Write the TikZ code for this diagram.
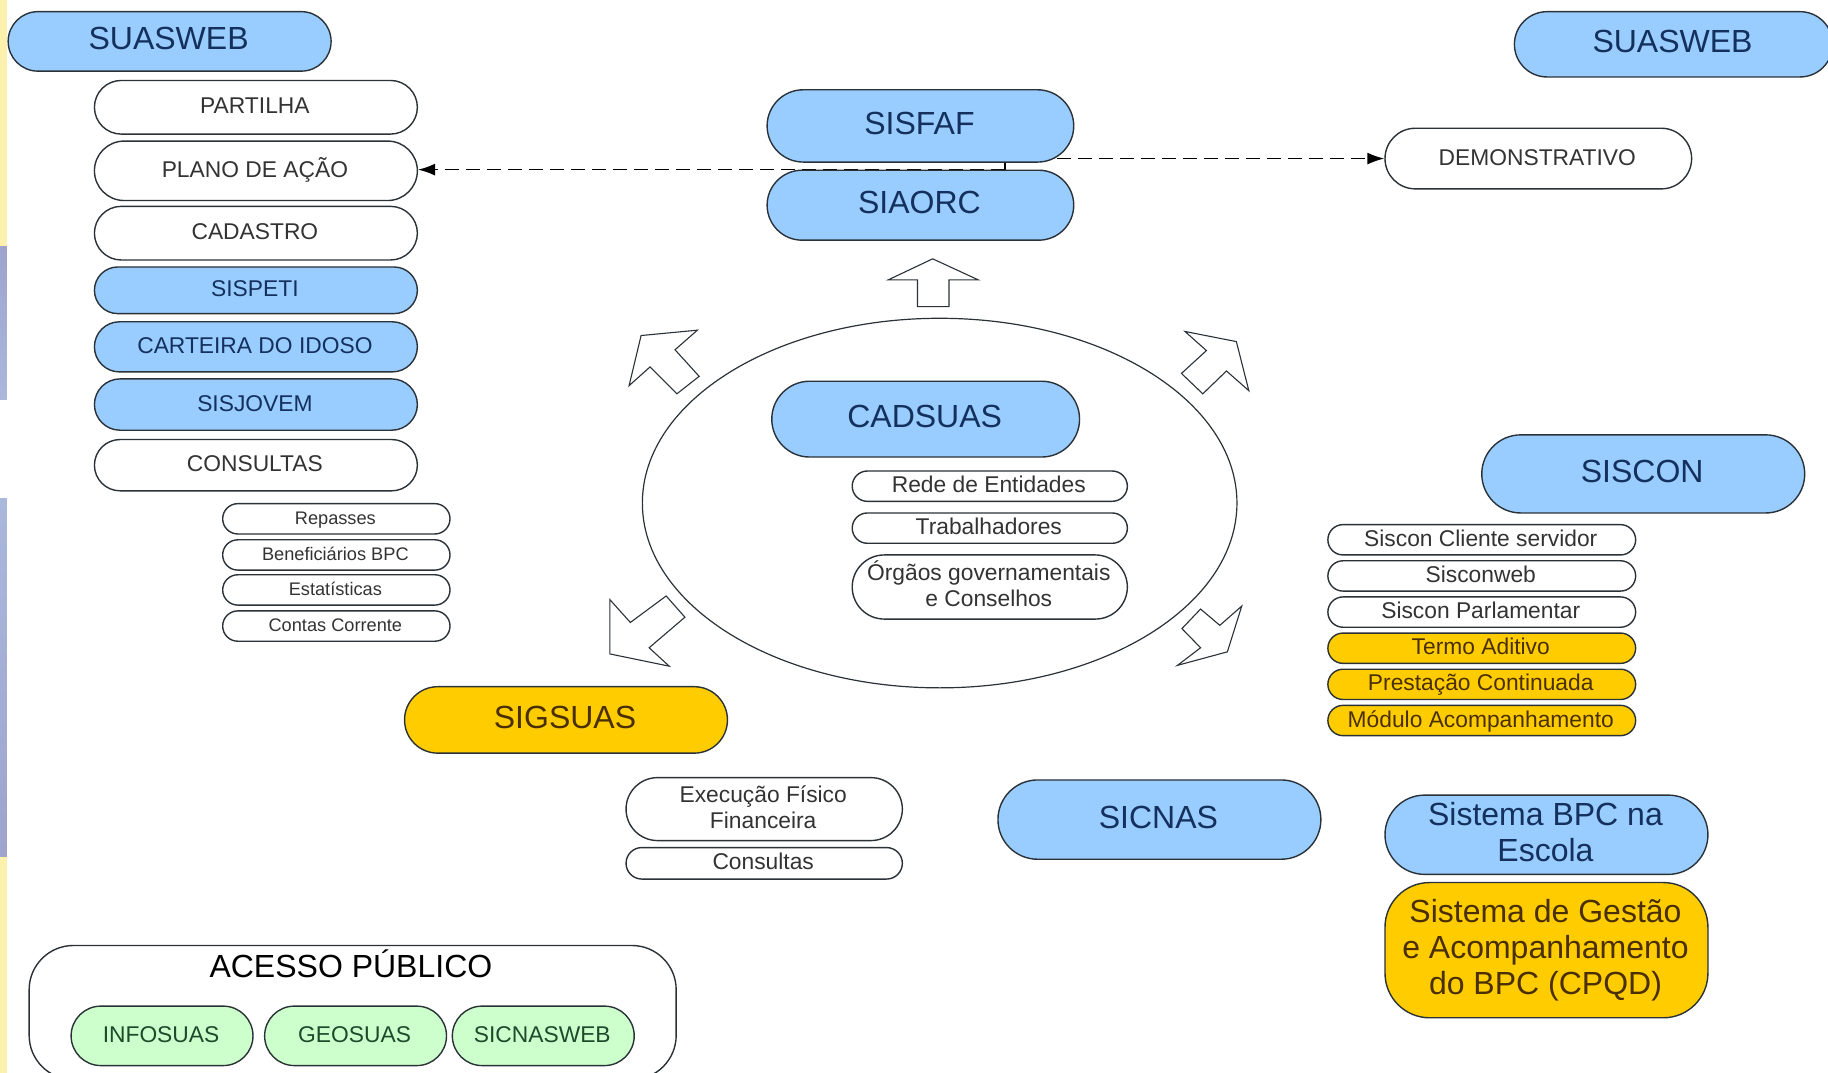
\documentclass[tikz,border=0pt]{standalone}
\usepackage{fontspec}
\setmainfont{Liberation Sans}
\usetikzlibrary{arrows.meta,backgrounds}
\definecolor{pblue}{HTML}{99CCFF}
\definecolor{pyellow}{HTML}{FFCC00}
\definecolor{pgreen}{HTML}{CCFFCC}
\definecolor{tblue}{HTML}{14305C}
\definecolor{tgrey}{HTML}{333333}
\definecolor{tbrown}{HTML}{4A3000}
\definecolor{tgreen}{HTML}{1E4A2C}
\definecolor{edge}{HTML}{2A3238}
\definecolor{stripY}{HTML}{FDF1AE}
\definecolor{stripD}{HTML}{9EA4CC}
\definecolor{stripL}{HTML}{AAB8DC}
\tikzset{
  pill/.style={draw=edge,line width=0.7pt,rectangle,inner sep=0pt},
  wbox/.style={pill,fill=white,text=tgrey},
  bbox/.style={pill,fill=pblue,text=tblue},
  ybox/.style={pill,fill=pyellow,text=tbrown},
  gbox/.style={pill,fill=pgreen,text=tgreen},
  blockarrow/.style={draw=edge,line width=0.55pt,fill=white,line join=miter},
  dashlink/.style={draw=black,line width=0.75pt,dash pattern=on 7pt off 3.5pt},
  tip/.style={-{Latex[length=8.5pt,width=6pt]}},
  big/.style={font=\fontsize{16}{18}\selectfont},
  midf/.style={font=\fontsize{11.4}{13}\selectfont},
  smallf/.style={font=\fontsize{9.1}{11}\selectfont},
}
% name, x1,y1,x2,y2, radius factor, style, text
\newcommand{\boxat}[8]{%
  \pgfmathsetmacro{\bw}{(#4-#2)*0.5829}%
  \pgfmathsetmacro{\bh}{(#5-#3)*0.5829}%
  \pgfmathsetmacro{\br}{(#5-#3)*0.5829*#6}%
  \node[#7,minimum width=\bw pt,minimum height=\bh pt,rounded corners=\br pt] (#1) at ({(#2+#4)/2},{(#3+#5)/2}) {\begin{tabular}{@{}c@{\hspace{1pt}}}\rule{0pt}{\dimexpr\ht\strutbox+1.4pt\relax}#8\end{tabular}};}
\begin{document}
\begin{tikzpicture}[x=0.5829pt,y=-0.5829pt]
\useasboundingbox (0,0) rectangle (1568,920);
\begin{scope}[on background layer]
\fill[white] (0,0) rectangle (1568,920);
\fill[stripY] (0,0) rectangle (5.8,211);
\shade[top color=stripD,bottom color=stripL] (0,211) rectangle (5.8,343);
\shade[top color=stripL,bottom color=stripD] (0,428) rectangle (5.8,735);
\fill[stripY] (0,735) rectangle (5.8,920);
\end{scope}
\coordinate (junction) at (862,145.5);
\draw[draw=edge,line width=0.6pt] (806,431.5) ellipse [x radius=255,y radius=158.5];
% boxes
\begin{scope}
\clip (0,0) rectangle (1568,920);
\boxat{suaswebL}{7}{10}{284}{61}{.5}{bbox,big}{SUASWEB}
\boxat{suaswebR}{1299}{10}{1572}{66}{.5}{bbox,big}{SUASWEB}
\boxat{partilha}{81}{69}{358}{115}{.5}{wbox,midf}{PARTILHA}
\boxat{plano}{81}{121}{358}{172}{.5}{wbox,midf}{PLANO DE AÇÃO}
\boxat{cadastro}{81}{177}{358}{223}{.5}{wbox,midf}{CADASTRO}
\boxat{sispeti}{81}{229}{358}{269}{.5}{bbox,midf}{SISPETI}
\boxat{carteira}{81}{276}{358}{319}{.5}{bbox,midf}{CARTEIRA DO IDOSO}
\boxat{sisjovem}{81}{325}{358}{369}{.5}{bbox,midf}{SISJOVEM}
\boxat{consultasA}{81}{377}{358}{421}{.5}{wbox,midf}{CONSULTAS}
\boxat{repasses}{191}{432}{386}{458}{.5}{wbox,smallf}{Repasses}
\boxat{benef}{191}{463}{386}{489}{.5}{wbox,smallf}{Beneficiários BPC}
\boxat{estat}{191}{493}{386}{519}{.5}{wbox,smallf}{Estatísticas}
\boxat{contas}{191}{524}{386}{550}{.5}{wbox,smallf}{Contas Corrente}
\boxat{sisfaf}{658}{77}{921}{139}{.5}{bbox,big}{SISFAF}
\boxat{siaorc}{658}{146}{921}{206}{.5}{bbox,big}{SIAORC}
\boxat{demo}{1188}{110}{1451}{162}{.5}{wbox,midf}{DEMONSTRATIVO}
\boxat{cadsuas}{662}{327}{926}{392}{.5}{bbox,big}{CADSUAS}
\boxat{rede}{731}{404}{967}{430}{.5}{wbox,midf}{Rede de Entidades}
\boxat{trab}{731}{440}{967}{466}{.5}{wbox,midf}{Trabalhadores}
\boxat{orgaos}{731}{476}{967}{531}{.5}{wbox,midf}{Órgãos governamentais\\e Conselhos}
\boxat{siscon}{1271}{373}{1548}{440}{.5}{bbox,big}{SISCON}
\boxat{cliente}{1139}{450}{1403}{476}{.5}{wbox,midf}{Siscon Cliente servidor}
\boxat{sisconweb}{1139}{481}{1403}{507}{.5}{wbox,midf}{Sisconweb}
\boxat{parlam}{1139}{512}{1403}{538}{.5}{wbox,midf}{Siscon Parlamentar}
\boxat{termo}{1139}{543}{1403}{569}{.5}{ybox,midf}{Termo Aditivo}
\boxat{prest}{1139}{574}{1403}{600}{.5}{ybox,midf}{Prestação Continuada}
\boxat{modulo}{1139}{605}{1403}{631}{.5}{ybox,midf}{Módulo Acompanhamento}
\boxat{sigsuas}{347}{589}{624}{646}{.5}{ybox,big}{SIGSUAS}
\boxat{execf}{537}{667}{774}{721}{.5}{wbox,midf}{Execução Físico\\Financeira}
\boxat{consultasB}{537}{727}{774}{754}{.5}{wbox,midf}{Consultas}
\boxat{sicnas}{856}{669}{1133}{737}{.5}{bbox,big}{SICNAS}
\boxat{bpc}{1188}{682}{1465}{750}{.5}{bbox,big}{Sistema BPC na\\Escola}
\boxat{gestao}{1188}{757}{1465}{873}{.33}{ybox,big}{Sistema de Gestão\\e Acompanhamento\\do BPC (CPQD)}
\boxat{acesso}{25}{811}{580}{926}{.33}{wbox}{}
\node[big,text=black,inner sep=0pt] (acessoT) at (301,827) {ACESSO PÚBLICO};
\boxat{info}{61}{863}{217}{914}{.5}{gbox,midf}{INFOSUAS}
\boxat{geo}{227}{863}{383}{914}{.5}{gbox,midf}{GEOSUAS}
\boxat{sicw}{388}{863}{544}{914}{.5}{gbox,midf}{SICNASWEB}
\end{scope}
% connectors
\begin{scope}[on background layer]
\draw[dashlink,tip] (junction) -- (junction -| plano.east);
\draw[dashlink,tip] (junction) |- (demo.west);
\end{scope}
% block arrows
\draw[blockarrow] (800,222) -- (839,240) -- (814,240) -- (814,263) -- (787,263) -- (787,240) -- (762,240) -- cycle;
\draw[blockarrow] (598.2,283.2) -- (549.9,287.8) -- (539.6,330.8) -- (557.6,314.7) -- (580.6,337.8) -- (599.7,322.8) -- (579,300) -- cycle;
\draw[blockarrow] (1016.4,284.3) -- (1060.5,293) -- (1071.2,335.1) -- (1052,318.2) -- (1031.7,337.8) -- (1013.4,320.3) -- (1034.8,300.7) -- cycle;
\draw[blockarrow] (523.1,514.3) -- (523.1,560.9) -- (574,571.4) -- (556.8,555.6) -- (587.5,529.4) -- (571.4,511.2) -- (540.7,533.9) -- cycle;
\draw[blockarrow] (1065.1,519.9) -- (1052.8,559.1) -- (1010,570.7) -- (1029.8,555.6) -- (1013.8,539.2) -- (1029.8,522.4) -- (1046.3,536.4) -- cycle;
\end{tikzpicture}
\end{document}
